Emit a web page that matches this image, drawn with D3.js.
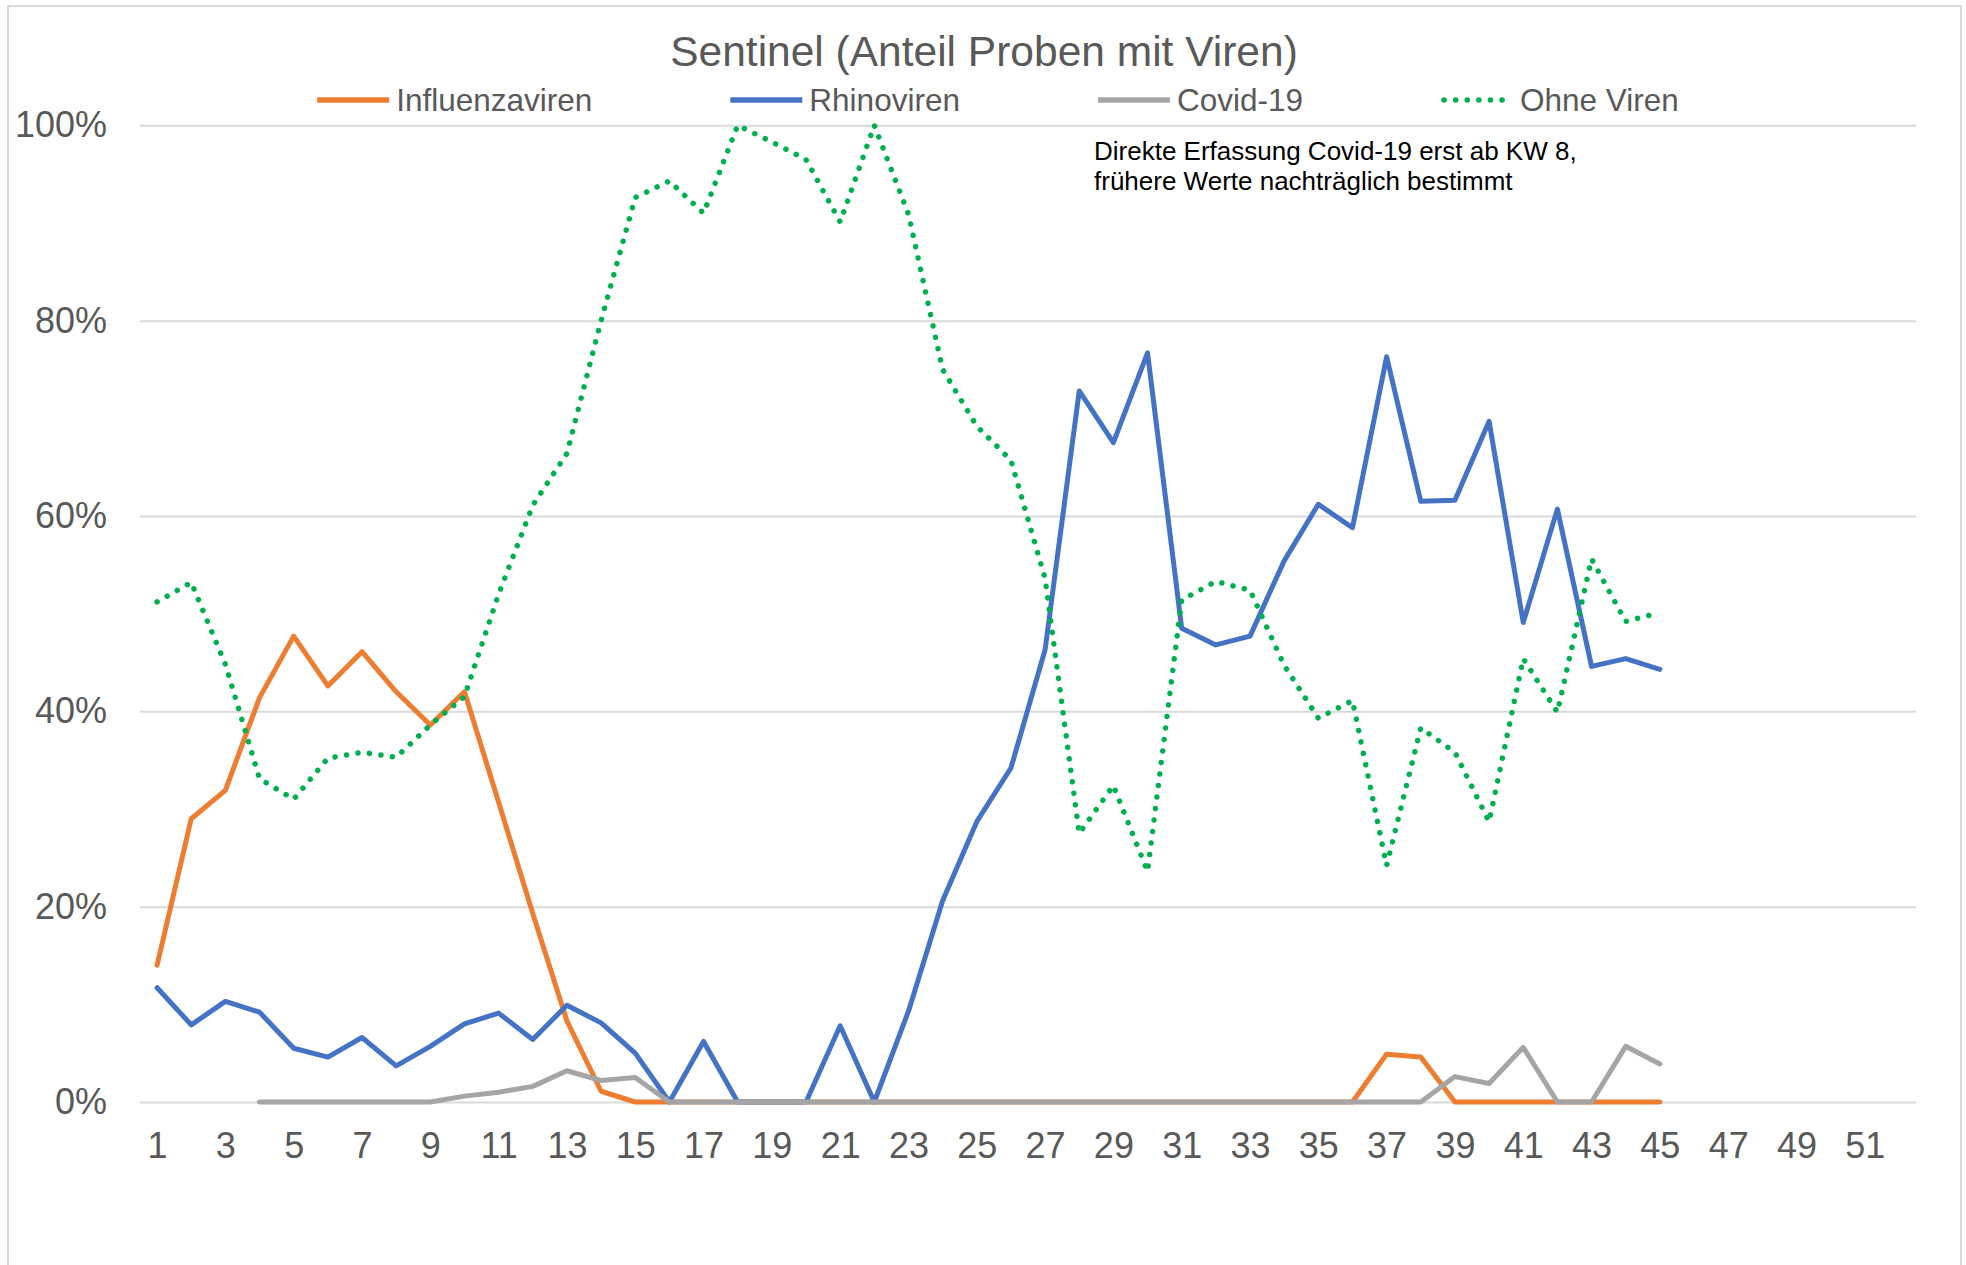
<!DOCTYPE html>
<html lang="de">
<head>
    <meta charset="UTF-8">
    <title>Sentinel</title>
    <script src="https://d3js.org/d3.v7.min.js"></script>
    <style>
        body { margin: 0; background: #fff; }
        text { font-family: "Liberation Sans", Arial, sans-serif; }
    </style>
</head>
<body>
    <svg id="chart" width="1966" height="1265"></svg>
    <script>
    // Kalenderwochen mit Daten
    const weeks = [1, 2, 3, 4, 5, 6, 7, 8, 9, 10, 11, 12, 13, 14, 15, 16, 17, 18, 19, 20,
        21, 22, 23, 24, 25, 26, 27, 28, 29, 30, 31, 32, 33, 34, 35, 36, 37, 38, 39, 40,
        41, 42, 43, 44, 45];
    const weekTicks = [1, 3, 5, 7, 9, 11, 13, 15, 17, 19, 21, 23, 25, 27, 29, 31, 33, 35, 37, 39, 41, 43, 45, 47, 49, 51];
    const pctTicks = [0, 20, 40, 60, 80, 100];

    // Anteile in %
    const influenza = [14.0, 29.0, 31.9, 41.4, 47.7, 42.6, 46.1, 42.0, 38.6, 42.0,
        30.7, 19.3, 8.3, 1.1, 0, 0, 0, 0, 0, 0,
        0, 0, 0, 0, 0, 0, 0, 0, 0, 0,
        0, 0, 0, 0, 0, 0, 4.9, 4.6, 0, 0,
        0, 0, 0, 0, 0];
    const rhino = [11.7, 7.9, 10.3, 9.2, 5.5, 4.6, 6.6, 3.7, 5.7, 8.0,
        9.1, 6.4, 9.9, 8.1, 5.0, 0, 6.2, 0, 0, 0,
        7.8, 0, 9.3, 20.6, 28.7, 34.2, 46.3, 72.8, 67.5, 76.7,
        48.5, 46.8, 47.7, 55.4, 61.2, 58.8, 76.3, 61.5, 61.6, 69.7,
        49.1, 60.7, 44.6, 45.4, 44.3];
    const covid = [null, null, null, 0, 0, 0, 0, 0, 0, 0.6,
        1.0, 1.6, 3.2, 2.2, 2.5, 0, 0, 0, 0, 0,
        0, 0, 0, 0, 0, 0, 0, 0, 0, 0,
        0, 0, 0, 0, 0, 0, 0, 0, 2.6, 1.9,
        5.6, 0, 0, 5.7, 3.9];
    const ohne = [51.2, 53.2, 44.8, 33.1, 31.0, 35.2, 35.8, 35.3, 38.6, 41.5,
        52.0, 61.1, 66.4, 80.0, 92.6, 94.3, 91.0, 100, 98.3, 96.5,
        90.1, 100, 90.9, 75.0, 69.2, 65.7, 53.6, 27.5, 32.4, 23.6,
        51.4, 53.3, 52.4, 44.7, 39.3, 41.1, 24.2, 38.3, 35.8, 28.7,
        45.4, 39.9, 55.6, 49.2, 50.1];

    const series = [
        { name: "Influenzaviren", values: influenza, color: "#ED7D31", dotted: false },
        { name: "Rhinoviren", values: rhino, color: "#4472C4", dotted: false },
        { name: "Covid-19", values: covid, color: "#A5A5A5", dotted: false },
        { name: "Ohne Viren", values: ohne, color: "#00B050", dotted: true }
    ];

    const svg = d3.select("#chart");
    const plot = { left: 140, right: 1916, top: 125.3, bottom: 1102 };

    // Rahmen des Diagrammbereichs
    svg.append("rect")
        .attr("x", 8).attr("y", 6)
        .attr("width", 1953).attr("height", 1320)
        .attr("fill", "#fff")
        .attr("stroke", "#d9d9d9")
        .attr("stroke-width", 2);

    const x = d3.scaleLinear().domain([0.5, 52.5]).range([plot.left, plot.right]);
    const y = d3.scaleLinear().domain([0, 100]).range([plot.bottom, plot.top]);

    // Gitterlinien + y-Achse
    const yAxis = svg.append("g")
        .attr("transform", `translate(${plot.left},0)`)
        .call(d3.axisLeft(y).tickValues(pctTicks).tickSize(-(plot.right - plot.left)).tickPadding(33).tickFormat(d => d + "%"));
    yAxis.select(".domain").remove();
    yAxis.selectAll(".tick line").attr("stroke", "#d9d9d9").attr("stroke-width", 2);
    yAxis.selectAll(".tick text")
        .attr("fill", "#595959")
        .style("font-size", "36px");

    // x-Achse
    const xAxis = svg.append("g")
        .attr("transform", `translate(0,${plot.bottom})`)
        .call(d3.axisBottom(x).tickValues(weekTicks).tickSize(0).tickPadding(30));
    xAxis.select(".domain").remove();
    xAxis.selectAll(".tick text")
        .attr("fill", "#595959")
        .style("font-size", "36px");

    const line = d3.line()
        .defined(d => d.v !== null)
        .x(d => x(d.w))
        .y(d => y(d.v));

    series.forEach(s => {
        const pts = weeks.map((w, i) => ({ w: w, v: s.values[i] }));
        const path = svg.append("path")
            .datum(pts)
            .attr("fill", "none")
            .attr("stroke", s.color)
            .attr("stroke-width", 5)
            .attr("stroke-linejoin", "round")
            .attr("stroke-linecap", "round")
            .attr("d", line);
        if (s.dotted) {
            path.attr("stroke-width", 5.5).attr("stroke-dasharray", "0.1 11.5");
        }
    });

    // Titel
    svg.append("text")
        .attr("x", 984).attr("y", 66)
        .attr("text-anchor", "middle")
        .attr("fill", "#595959")
        .style("font-size", "42.5px")
        .text("Sentinel (Anteil Proben mit Viren)");

    // Legende
    const legend = svg.append("g");
    const swatch = 72, swGap = 7, itemGap = 138;
    let lx = 0;
    series.forEach(s => {
        const g = legend.append("g").attr("transform", `translate(${lx},0)`);
        const sw = g.append("line")
            .attr("x1", 0).attr("x2", swatch)
            .attr("y1", 100).attr("y2", 100)
            .attr("stroke", s.color)
            .attr("stroke-width", 5.5)
            .attr("stroke-linecap", s.dotted ? "round" : "butt");
        if (s.dotted) sw.attr("stroke-dasharray", "0.1 11.5").attr("x1", 3);
        const t = g.append("text")
            .attr("x", swatch + swGap).attr("y", 111)
            .attr("fill", "#595959")
            .style("font-size", "31.5px")
            .text(s.name);
        lx += swatch + swGap + t.node().getComputedTextLength() + itemGap;
    });
    const legendWidth = lx - itemGap;
    legend.attr("transform", `translate(${998 - legendWidth / 2},0)`);

    // Hinweis
    const note = svg.append("text")
        .attr("x", 1094).attr("y", 160)
        .attr("fill", "#000")
        .style("font-size", "26px");
    note.append("tspan").attr("x", 1094).text("Direkte Erfassung Covid-19 erst ab KW 8,");
    note.append("tspan").attr("x", 1094).attr("dy", 30).text("frühere Werte nachträglich bestimmt");
    </script>
</body>
</html>
